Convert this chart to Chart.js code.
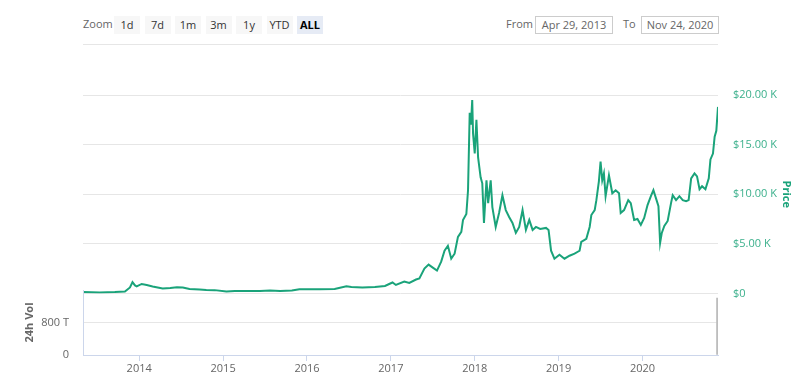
<!DOCTYPE html>
<html>
<head>
<meta charset="utf-8">
<script src="https://cdn.jsdelivr.net/npm/chart.js@4/dist/chart.umd.min.js"></script>
<style>
  html,body{margin:0;padding:0;background:#fff;}
  #wrap{position:relative;width:800px;height:385px;overflow:hidden;font-family:"Open Sans",Arial,sans-serif;}
  .cv{position:absolute;left:0;top:0;width:800px;}
  .lbl{position:absolute;font-size:11px;color:#666;line-height:18px;top:15px;}
  .btn{position:absolute;top:16px;width:26px;height:18px;background:#f7f7f7;font-size:11px;color:#333;text-align:center;line-height:18px;}
  .btn.sel{background:#e6ebf5;font-weight:bold;color:#000;}
  .inp{position:absolute;top:16px;height:16px;border:1px solid #ccc;font-size:11px;color:#666;text-align:center;line-height:16px;}
  #sep{position:absolute;left:83px;top:44px;width:635px;height:1px;background:#e6e6e6;}
</style>
</head>
<body>
<div id="wrap">
  <div class="lbl" style="left:83px;">Zoom</div>
  <div id="buttons"></div>
  <div class="lbl" style="left:506px;">From</div>
  <div class="inp" style="left:535px;width:76px;">Apr 29, 2013</div>
  <div class="lbl" style="left:623px;">To</div>
  <div class="inp" style="left:641px;width:76px;">Nov 24, 2020</div>
  <div id="sep"></div>
  <div class="cv" style="height:315px;"><canvas id="price"></canvas></div>
  <div class="cv" style="height:385px;"><canvas id="vol"></canvas></div>
</div>
<script>
// ---- data (decimal years, USD) ----
const zoomButtons = ['1d','7d','1m','3m','1y','YTD','ALL'];
const priceDates = [
  2013.33,2013.53,2013.71,2013.83,2013.89,2013.92,2013.95,2013.97,2014.03,2014.09,
  2014.16,2014.22,2014.28,2014.37,2014.45,2014.52,2014.60,2014.72,2014.80,2014.90,
  2015.04,2015.14,2015.28,2015.44,2015.56,2015.68,2015.82,2015.91,2015.99,2016.15,
  2016.33,2016.47,2016.53,2016.66,2016.81,2016.93,2016.98,2017.02,2017.06,2017.16,
  2017.22,2017.30,2017.34,2017.40,2017.45,2017.50,2017.55,2017.60,2017.64,2017.68,
  2017.72,2017.76,2017.80,2017.84,2017.86,2017.90,2017.92,2017.94,2017.955,2017.97,
  2017.98,2018.00,2018.02,2018.04,2018.07,2018.09,2018.11,2018.14,2018.16,2018.19,
  2018.21,2018.25,2018.29,2018.33,2018.37,2018.41,2018.45,2018.49,2018.53,2018.57,
  2018.61,2018.65,2018.69,2018.73,2018.78,2018.85,2018.88,2018.91,2018.95,2019.01,
  2019.07,2019.13,2019.19,2019.25,2019.27,2019.33,2019.37,2019.39,2019.43,2019.45,
  2019.48,2019.50,2019.52,2019.54,2019.56,2019.60,2019.64,2019.68,2019.72,2019.74,
  2019.78,2019.83,2019.86,2019.90,2019.94,2019.98,2020.02,2020.06,2020.10,2020.13,
  2020.16,2020.19,2020.21,2020.23,2020.26,2020.30,2020.34,2020.36,2020.40,2020.44,
  2020.48,2020.52,2020.55,2020.58,2020.62,2020.65,2020.68,2020.71,2020.75,2020.79,
  2020.81,2020.84,2020.86,2020.88,2020.90
];
const prices = [
  140,100,130,200,600,1140,800,700,950,850,
  700,600,500,550,620,600,450,400,350,330,
  200,240,240,230,280,250,300,420,430,420,
  450,720,650,600,650,750,950,1100,850,1200,
  1050,1400,1500,2500,2900,2600,2300,3200,4300,4800,
  3500,4000,5700,6200,7400,8000,10400,18200,17000,19500,
  16100,14100,17500,13700,11700,11100,7100,11400,9100,11400,
  8700,6700,8100,9900,8400,7700,7100,6100,6700,8400,
  6400,7400,6400,6700,6500,6600,6400,4300,3500,3900,
  3500,3800,4000,4300,5200,5500,6700,7900,8400,9400,
  11300,13300,11400,12100,9800,11900,10100,10400,10100,8100,
  8400,9400,9100,7400,7500,6900,7600,8900,9800,10400,
  9600,8800,5100,6100,6800,7300,9100,9900,9400,9800,
  9400,9300,9400,11600,12100,11800,10500,10800,10500,11600,
  13500,14100,15800,16400,18800
];
const priceTicks = [0,5000,10000,15000,20000];
const yearTicks = [2014,2015,2016,2017,2018,2019,2020];
const volTicks = [0,800e12];
const volDates = [2020.90];
const volumes = [1415e12];

const X_MIN = 2013.33, X_MAX = 2020.90;
const TEAL = '#1aa37a';
const TEAL_TXT = '#3cb08c';
const FONT = '"Open Sans", Arial, sans-serif';

// buttons
const bWrap = document.getElementById('buttons');
zoomButtons.forEach((b,i)=>{
  const d=document.createElement('div');
  d.className='btn'+(b==='ALL'?' sel':'');
  d.style.left=(114+i*30.5)+'px';
  d.textContent=b;
  bWrap.appendChild(d);
});

Chart.defaults.font.family = FONT;
Chart.defaults.font.size = 11;

new Chart(document.getElementById('price'), {
  type:'line',
  data:{datasets:[{
    data: priceDates.map((d,i)=>({x:d,y:prices[i]})),
    borderColor: TEAL, borderWidth: 2, pointRadius: 0, tension: 0, fill:false
  }]},
  options:{
    responsive:true, maintainAspectRatio:false, animation:false,
    layout:{padding:{left:83, top:95, bottom:0, right:0}},
    plugins:{legend:{display:false}, tooltip:{enabled:false}},
    scales:{
      x:{type:'linear', min:X_MIN, max:X_MAX, display:false},
      y:{
        position:'right', min:0, max:20000,
        afterBuildTicks:s=>{s.ticks = priceTicks.map(v=>({value:v}));},
        afterFit:s=>{s.width = 82;},
        ticks:{color:TEAL_TXT, padding:15,
          callback:v=> v===0 ? '$0' : '$'+(v/1000).toFixed(2)+' K'},
        grid:{color:'#e6e6e6', drawTicks:false},
        border:{display:false},
        title:{display:true, text:'Price', color:TEAL, font:{weight:'bold', size:11}, padding:{top:7,bottom:0}}
      }
    }
  }
});

new Chart(document.getElementById('vol'), {
  type:'bar',
  data:{datasets:[{
    data: volDates.map((d,i)=>({x:d,y:volumes[i]})),
    backgroundColor:'#bdbdbd', barThickness:3
  }]},
  options:{
    responsive:true, maintainAspectRatio:false, animation:false,
    layout:{padding:{left:0, top:290, bottom:0, right:82}},
    plugins:{legend:{display:false}, tooltip:{enabled:false}},
    scales:{
      x:{type:'linear', min:X_MIN, max:X_MAX, offset:false,
        afterBuildTicks:s=>{s.ticks = yearTicks.map(v=>({value:v}));},
        afterFit:s=>{s.height = 30;},
        ticks:{color:'#666', padding:1, maxRotation:0, autoSkip:false, callback:v=>String(v)},
        grid:{drawOnChartArea:false, drawTicks:true, tickLength:6, color:'#ccd6eb', offset:false},
        border:{color:'#ccd6eb'}
      },
      y:{position:'left', min:0, max:1616e12,
        afterBuildTicks:s=>{s.ticks = volTicks.map(v=>({value:v}));},
        afterFit:s=>{s.width = 83;},
        ticks:{color:'#666', padding:14, callback:v=> v===0 ? '0' : (v/1e12)+' T'},
        grid:{color:'#e6e6e6', drawTicks:false},
        border:{color:'#ccd6eb'},
        title:{display:true, text:'24h Vol', color:'#666', font:{weight:'bold', size:11}, padding:{top:23,bottom:0}}
      }
    }
  }
});
</script>
</body>
</html>
